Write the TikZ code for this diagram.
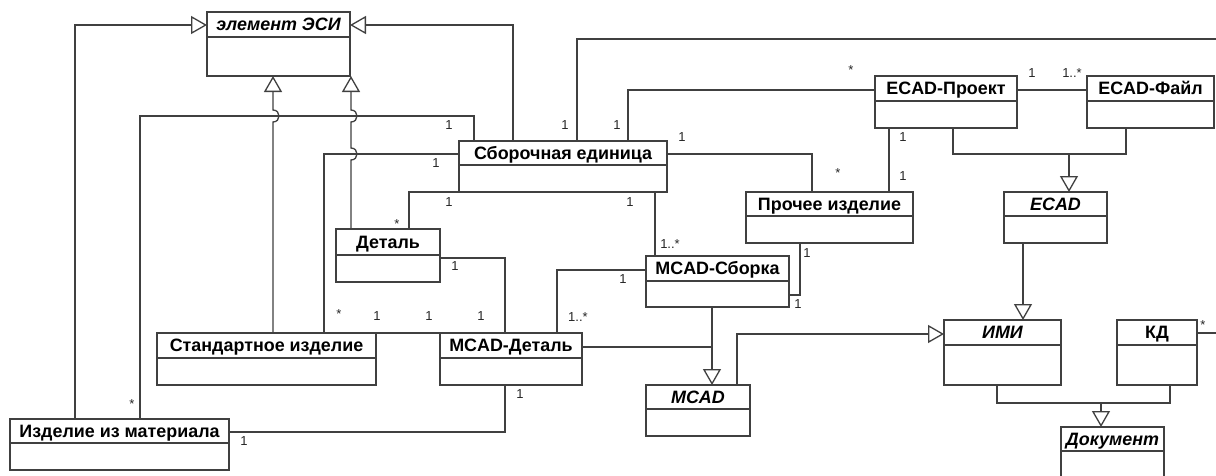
\documentclass[tikz,border=0pt]{standalone}
\usepackage{fontspec}
\setmainfont{Liberation Sans}
\usetikzlibrary{arrows.meta,fit}

\definecolor{linecol}{gray}{0.25}

\tikzset{
  clsbox/.style={draw=linecol, line width=1.3pt, inner sep=0pt, outer sep=0pt},
  ttl/.style={font=\fontsize{17.9}{20}\selectfont\bfseries, inner sep=0pt, anchor=base, text=black},
  ttli/.style={font=\fontsize{17.9}{20}\selectfont\bfseries\itshape, inner sep=0pt, anchor=base, text=black},
  conn/.style={draw=linecol, line width=1.3pt},
  gen/.style={conn, -{Triangle[length=16pt,width=18pt,fill=white,line width=1.3pt]}},
  mult/.style={font=\fontsize{13}{15}\selectfont, inner sep=0pt, text=black!85},
}

% UML class: name, left, top, right, bottom, divider, title style, title
\newcommand\umlcls[8]{%
  \coordinate (#1-nw) at (#2,#3);
  \coordinate (#1-se) at (#4,#5);
  \node[clsbox, fit=(#1-nw)(#1-se)] (#1) {};
  \draw[conn] (#2,#6) -- (#4,#6);
  \node[#7] (#1-title) at ({(#2+#4)/2},{(#3+#6)/2+6.4}) {#8};
}

\begin{document}
\begin{tikzpicture}[x=1pt,y=-1pt]
\useasboundingbox (0,0) rectangle (1216,475);
\fill[white] (0,0) rectangle (1216,475);
\clip (0,0) rectangle (1216,475);

% classes
\umlcls{esi}{207}{12}{350}{76}{37}{ttli}{элемент ЭСИ}
\umlcls{sb}{459}{141}{667}{192}{165}{ttl}{Сборочная единица}
\umlcls{ecp}{875}{76}{1017}{128}{101}{ttl}{ECAD-Проект}
\umlcls{ecf}{1087}{76}{1214}{128}{101}{ttl}{ECAD-Файл}
\umlcls{pr}{746}{192}{913}{243}{216}{ttl}{Прочее изделие}
\umlcls{ecad}{1004}{192}{1107}{243}{216}{ttli}{ECAD}
\umlcls{det}{336}{229}{440}{282}{255}{ttl}{Деталь}
\umlcls{mcs}{646}{256}{789}{307}{281}{ttl}{MCAD-Сборка}
\umlcls{std}{157}{333}{376}{385}{358}{ttl}{Стандартное изделие}
\umlcls{mcd}{440}{333}{582}{385}{358}{ttl}{MCAD-Деталь}
\umlcls{mcad}{646}{385}{750}{436}{409}{ttli}{MCAD}
\umlcls{imi}{944}{320}{1061}{385}{345}{ttli}{ИМИ}
\umlcls{kd}{1117}{320}{1197}{385}{345}{ttl}{КД}
\umlcls{doc}{1061}{427}{1164}{500}{451}{ttli}{Документ}
\umlcls{izm}{10}{419}{229}{470}{443}{ttl}{Изделие из материала}

% generalizations to "элемент ЭСИ"
\coordinate (g1) at (75,25);
\draw[gen] (izm.north -| g1) |- (esi.west |- g1);
\coordinate (g2) at (513,25);
\draw[gen] (sb.north -| g2) |- (esi.east |- g2);
\coordinate (k1) at (273,122);
\coordinate (k2) at (273,110);
\draw[gen] (std.north -| k1) -- (k1) .. controls +(8,0) and +(8,0) .. (k2) -- (esi.south -| k2);
\coordinate (k3) at (351,160);
\coordinate (k4) at (351,148);
\coordinate (k5) at (351,122);
\coordinate (k6) at (351,110);
\draw[gen] (det.north -| k3) -- (k3) .. controls +(8,0) and +(8,0) .. (k4) -- (k5)
  .. controls +(8,0) and +(8,0) .. (k6) -- (esi.south -| k6);

% associations of "Сборочная единица"
\coordinate (a1) at (140,116);
\coordinate (a2) at (474,116);
\draw[conn] (izm.north -| a1) -- (a1) -- (a2) -- (sb.north -| a2);
\coordinate (a3) at (324,154);
\draw[conn] (std.north -| a3) -- (a3) -- (sb.west |- a3);
\coordinate (a4) at (409,193);
\draw[conn] (sb.south west) -| (det.north -| a4);
\coordinate (a5) at (655,200);
\draw[conn] (sb.south -| a5) -- (mcs.north -| a5);
\coordinate (a6) at (812,154);
\draw[conn] (sb.east |- a6) -| (pr.north -| a6);
\coordinate (a7) at (628,90);
\draw[conn] (sb.north -| a7) |- (ecp.west |- a7);
\coordinate (a8) at (577,39);
\coordinate (a9) at (1240,39);
\draw[conn] (sb.north -| a8) |- (a9);
\draw[conn] (ecp.east |- a7) -- (ecf.west |- a7);
\coordinate (a10) at (889,150);
\draw[conn] (ecp.south -| a10) -- (pr.north -| a10);

% ECAD hierarchy
\coordinate (e1) at (953,154);
\coordinate (e2) at (1126,154);
\coordinate (e3) at (1069,154);
\draw[conn] (ecp.south -| e1) -- (e1) -- (e2) -- (ecf.south -| e2);
\draw[gen] (e3) -- (ecad.north -| e3);
\coordinate (e4) at (1023,280);
\draw[gen] (ecad.south -| e4) -- (imi.north -| e4);

% MCAD hierarchy
\coordinate (c1) at (712,347);
\draw[gen] (mcs.south -| c1) -- (mcad.north -| c1);
\draw[conn] (mcd.east |- c1) -- (c1);
\coordinate (c2) at (737,334);
\draw[gen] (mcad.north -| c2) |- (imi.west |- c2);

% documents
\coordinate (d1) at (997,403);
\coordinate (d2) at (1170,403);
\coordinate (d3) at (1101,403);
\draw[conn] (imi.south -| d1) -- (d1) -- (d2) -- (kd.south -| d2);
\draw[gen] (d3) -- (doc.north -| d3);

% remaining associations
\coordinate (f1) at (557,270);
\draw[conn] (mcs.west |- f1) -| (mcd.north -| f1);
\coordinate (f2) at (800,295);
\draw[conn] (pr.south -| f2) |- (mcs.east |- f2);
\coordinate (f3) at (505,432);
\draw[conn] (izm.east |- f3) -| (mcd.south -| f3);
\coordinate (f4) at (505,258);
\draw[conn] (det.east |- f4) -| (mcd.north -| f4);
\draw[conn] (std.north east) -- (mcd.north west);
\coordinate (f5) at (1240,333);
\draw[conn] (kd.east |- f5) -- (f5);

% multiplicities
\node[mult] (m1)  at (449,125) {1};
\node[mult] (m2)  at (565,125) {1};
\node[mult] (m3)  at (617,125) {1};
\node[mult] (m4)  at (682,137) {1};
\node[mult] (m5)  at (436,163) {1};
\node[mult] (m6)  at (449,202) {1};
\node[mult] (m7)  at (630,202) {1};
\node[mult] (m8)  at (851,70) {*};
\node[mult] (m9)  at (1032,73) {1};
\node[mult] (m10) at (1072,73) {1..*};
\node[mult] (m11) at (903,137) {1};
\node[mult] (m12) at (838,173) {*};
\node[mult] (m13) at (903,176) {1};
\node[mult] (m14) at (397,224) {*};
\node[mult] (m15) at (455,266) {1};
\node[mult] (m16) at (339,314) {*};
\node[mult] (m17) at (377,316) {1};
\node[mult] (m18) at (429,316) {1};
\node[mult] (m19) at (481,316) {1};
\node[mult] (m20) at (578,317) {1..*};
\node[mult] (m21) at (623,279) {1};
\node[mult] (m22) at (670,244) {1..*};
\node[mult] (m23) at (807,253) {1};
\node[mult] (m24) at (798,304) {1};
\node[mult] (m25) at (132,404) {*};
\node[mult] (m26) at (244,441) {1};
\node[mult] (m27) at (520,394) {1};
\node[mult] (m28) at (1203,325) {*};
\end{tikzpicture}
\end{document}
